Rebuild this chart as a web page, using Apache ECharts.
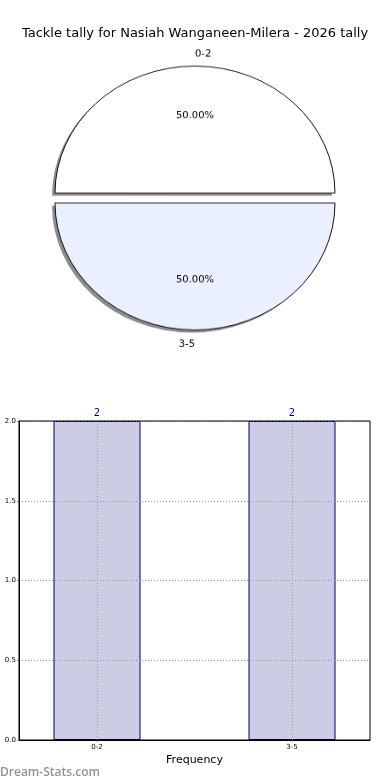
<!DOCTYPE html>
<html>
<head>
<meta charset="utf-8">
<script src="https://cdn.jsdelivr.net/npm/echarts@6/dist/echarts.min.js"></script>
<style>
  html, body { margin: 0; padding: 0; background: #fff; }
  #wrap { position: relative; width: 390px; height: 780px; }
  #main { position: absolute; left: 0; top: 0; width: 390px; height: 780px; }
  #pie { position: absolute; left: 0; top: 0; width: 390px; height: 396px;
         transform-origin: 195px 198px; transform: scaleY(0.907); }
</style>
</head>
<body>
<div id="wrap">
  <div id="main"></div>
  <div id="pie"></div>
</div>
<script>
const titleText = 'Tackle tally for Nasiah Wanganeen-Milera - 2026 tally';
const categories = ['0-2', '3-5'];
const tallies = [2, 2];
const pieColors = ['#ffffff', '#eaf0ff'];
const yTicks = [0, 0.5, 1.0, 1.5, 2.0];
const pieLabelLen = [13, 16];

const FONT = 'DejaVu Sans';

// ---------- main chart: title + bar chart ----------
const main = echarts.init(document.getElementById('main'), null, { renderer: 'canvas' });
main.setOption({
  animation: false,
  backgroundColor: '#fff',
  textStyle: { fontFamily: FONT },
  title: {
    text: titleText, left: 'center', top: 22,
    textStyle: { fontFamily: FONT, fontSize: 13, fontWeight: 'normal', color: '#000' }
  },
  graphic: [{
    type: 'text', left: 0, bottom: 1,
    style: { text: 'Dream-Stats.com', fill: '#929292', font: '600 12px "Open Sans"' }
  }],
  grid: { left: 19, right: 20, top: 421, bottom: 40, show: true, z: 4, borderColor: '#000', borderWidth: 1, backgroundColor: 'transparent' },
  xAxis: {
    type: 'value', min: -0.4, max: 1.4, z: 3,
    name: 'Frequency', nameLocation: 'middle', nameGap: 15,
    nameTextStyle: { fontFamily: FONT, fontSize: 11, color: '#000' },
    axisLine: { show: true, onZero: false, lineStyle: { color: '#000', width: 1 } },
    axisTick: { show: true, customValues: categories.map((c, i) => i), length: 2, lineStyle: { color: '#888' } },
    axisLabel: { customValues: categories.map((c, i) => i), formatter: v => categories[Math.round(v)] || '', fontSize: 7, color: '#000', margin: 4, fontFamily: FONT },
    splitLine: { show: true, lineStyle: { type: [1, 2], color: '#999', width: 1 } }
  },
  yAxis: {
    type: 'value', min: yTicks[0], max: yTicks[yTicks.length - 1], interval: 0.5, z: 3,
    axisLine: { show: true, onZero: false, lineStyle: { color: '#000', width: 1 } },
    axisTick: { show: true, length: 2, lineStyle: { color: '#888' } },
    axisLabel: { formatter: v => v.toFixed(1), fontSize: 7, color: '#000', margin: 3, fontFamily: FONT },
    splitLine: { show: true, lineStyle: { type: [1, 2], color: '#999', width: 1 } }
  },
  series: [{
    type: 'bar',
    data: categories.map((c, i) => [i, tallies[i]]),
    barWidth: 87,
    itemStyle: { color: '#ccccE5', borderColor: '#00006a', borderWidth: 1 },
    label: { show: true, position: 'top', distance: 3, color: '#000080', fontSize: 10, fontFamily: FONT, formatter: p => String(p.value[1]) },
    emphasis: { disabled: true }
  }]
});

// ---------- pie chart ----------
const pie = echarts.init(document.getElementById('pie'), null, { renderer: 'canvas' });
const common = {
  type: 'pie', startAngle: 179.999, clockwise: true, avoidLabelOverlap: false,
  emphasis: { disabled: true }
};
pie.setOption({
  animation: false,
  textStyle: { fontFamily: FONT },
  series: [Object.assign({}, common, {
    // shadow layer
    center: [192, 201], radius: [0, 140], silent: true,
    selectedMode: 'multiple', selectedOffset: 5.5,
    data: categories.map((c, i) => ({ name: c, value: tallies[i], selected: true })),
    itemStyle: { color: 'rgba(0,0,0,0.45)', borderWidth: 0 },
    select: { itemStyle: { color: 'rgba(0,0,0,0.45)', borderWidth: 0 } },
    label: { show: false }, labelLine: { show: false }
  }), Object.assign({}, common, {
    center: [195, 198], radius: [0, 140],
    selectedMode: 'multiple', selectedOffset: 5.5,
    data: categories.map((c, i) => ({
      name: c, value: tallies[i], selected: true,
      itemStyle: { color: pieColors[i] }, select: { itemStyle: { color: pieColors[i] } },
      labelLine: { show: false, length: pieLabelLen[i], length2: 0 }
    })),
    itemStyle: { borderColor: '#111', borderWidth: 1 },
    label: { show: true, position: 'outside', formatter: '{b}', fontSize: 10, color: '#000', fontFamily: FONT, distanceToLabelLine: 0, padding: [3, 0, 0, 0] },
    labelLine: { show: false, length: 15, length2: 0 },
    select: { itemStyle: { borderColor: '#111', borderWidth: 1 }, label: { color: '#000' } }
  }), Object.assign({}, common, {
    center: [195, 198], radius: [0, 175.5], silent: true,
    data: categories.map((c, i) => ({ name: c, value: tallies[i] })),
    itemStyle: { color: 'rgba(0,0,0,0)', borderWidth: 0 },
    label: { show: true, position: 'inside', formatter: p => p.percent.toFixed(2) + '%', fontSize: 10, color: '#000', fontFamily: FONT, padding: [3, 0, 0, 0] },
    labelLine: { show: false }
  })]
});
</script>
</body>
</html>
